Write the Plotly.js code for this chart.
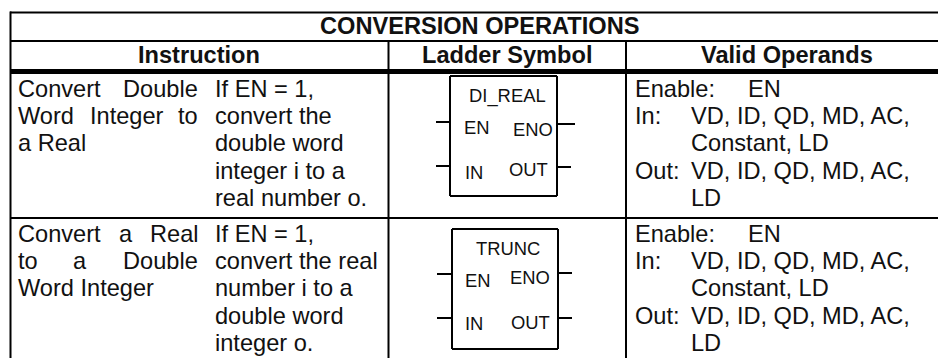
<!DOCTYPE html>
<html><head><meta charset="utf-8">
<script src="https://cdn.plot.ly/plotly-3.0.1.min.js"></script>
<style>html,body{margin:0;padding:0;background:#fff}</style>
</head><body><div id="c" style="width:938px;height:358px"></div>
<script>
const title = "CONVERSION OPERATIONS";
const headers = ["Instruction", "Ladder Symbol", "Valid Operands"];
const symbolPins = ["EN", "ENO", "IN", "OUT"];
const symbolNames = ["DI_REAL", "TRUNC"];
const ink = "#111";
const F = "Liberation Sans, Arial, sans-serif";
const BODY = 23.6, PIN = 18.4;
const anns = [];
function t(text, x, y, size, opts) {
  anns.push(Object.assign({text, x, y, xref:"x", yref:"y", showarrow:false,
    xanchor:"left", yanchor:"middle", align:"left", font:{family:F, size:size, color:ink}}, opts||{}));
}
const shapes = [];
function ln(x0,y0,x1,y1,w){shapes.push({type:"line",xref:"x",yref:"y",x0,y0,x1,y1,line:{color:"#000",width:w}});}

// table rules
ln(10,12.5,938,12.5,2); ln(10,41,938,41,2); ln(10,71.5,938,71.5,5); ln(10,218,938,218,2);
ln(10.5,11.5,10.5,358,2); ln(388.5,41,388.5,358,2); ln(626,41,626,358,2);

t("<b>"+title+"</b>",479,26,BODY,{xanchor:"center"});
t("<b>"+headers[0]+"</b>",199,55,BODY,{xanchor:"center"});
t("<b>"+headers[1]+"</b>",507,55,BODY,{xanchor:"center"});
t("<b>"+headers[2]+"</b>",787,55,BODY,{xanchor:"center"});

// instruction text
[["Convert",16,89],["Double",121,89],["Word",16,116],["Integer",88,116],["to",176,116],["a Real",16,143],
 ["Convert",16,234],["a",117,234],["Real",148,234],["to",16,261],["a",71,261],["Double",121,261],["Word Integer",16,288]
].forEach(a=>t(a[0],a[1],a[2],BODY));
[["If EN = 1,",89],["convert the",116],["double word",143],["integer i to a",171],["real number o.",198],
 ["If EN = 1,",234],["convert the real",261],["number i to a",288],["double word",316],["integer o.",343]
].forEach(a=>t(a[0],213,a[1],BODY));

// operands
[89,234].forEach(y=>{
  t("Enable:",633,y,BODY); t("EN",746,y,BODY);
  t("In:",633,y+27,BODY); t("VD, ID, QD, MD, AC,",689,y+27,BODY);
  t("Constant, LD",689,y+54,BODY);
  t("Out:",633,y+82,BODY); t("VD, ID, QD, MD, AC,",689,y+82,BODY);
  t("LD",689,y+109,BODY);
});

// ladder boxes
function box(b){
  ln(b.x0,b.y0,b.x1,b.y0,2); ln(b.x0,b.y1,b.x1,b.y1,2); ln(b.x0,b.y0,b.x0,b.y1,2); ln(b.x1,b.y0,b.x1,b.y1,2);
  b.left.forEach(y=>ln(b.lx,y,b.x0,y,2));
  b.right.forEach((y,i)=>ln(b.x1,y,b.rx[i],y,2));
  t(b.name,b.nx,b.ny,PIN,{xanchor:"center"});
  symbolPins.forEach((p,i)=>t(p,b.px[i],b.py[i],PIN,{xanchor:i%2?"right":"left"}));
}
box({x0:450,x1:557,y0:76,y1:196,lx:436,left:[122,166],right:[124,167],rx:[575,571],
     name:symbolNames[0],nx:507,ny:96,px:[462,555,463,550],py:[127,129,172,169]});
box({x0:452,x1:558,y0:229,y1:349,lx:437,left:[274,318],right:[273,318],rx:[572,572],
     name:symbolNames[1],nx:508,ny:248,px:[463,552,463,552],py:[280,277,323,322]});

Plotly.newPlot("c",[],{
  width:938,height:358,margin:{l:0,r:0,t:0,b:0},
  paper_bgcolor:"#fff",plot_bgcolor:"#fff",showlegend:false,
  xaxis:{range:[0,938],visible:false,fixedrange:true},
  yaxis:{range:[358,0],visible:false,fixedrange:true},
  annotations:anns,shapes:shapes
},{displayModeBar:false,staticPlot:true});
</script></body></html>
